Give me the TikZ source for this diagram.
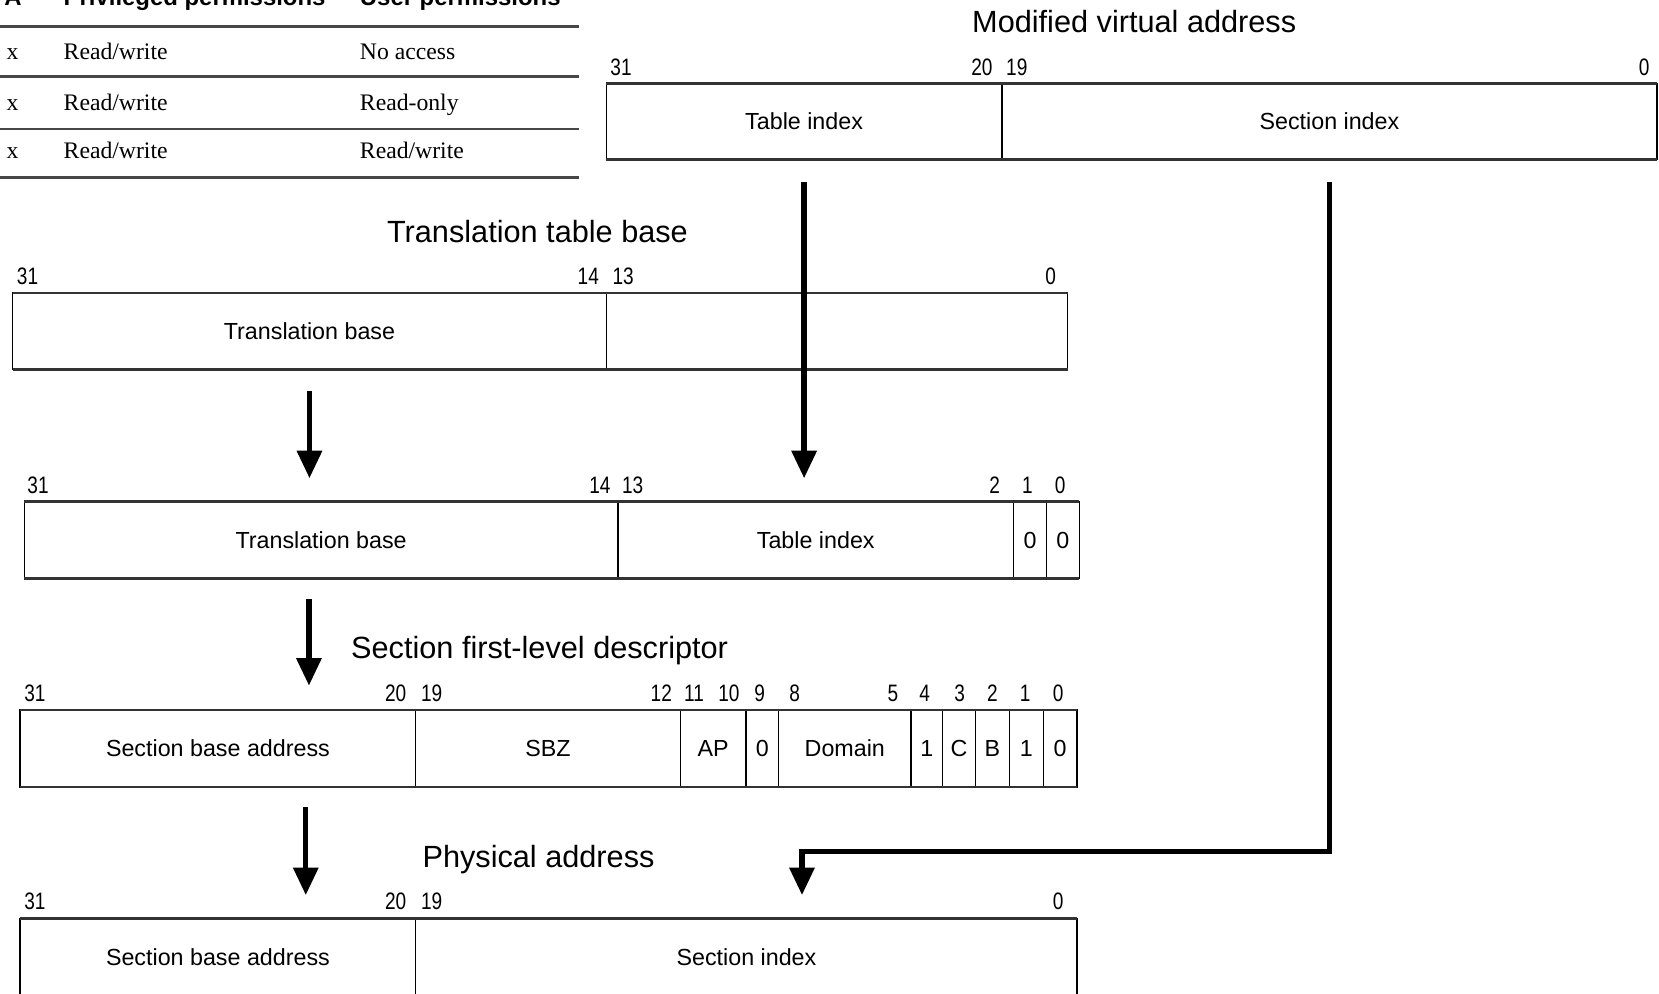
\documentclass[tikz,border=0pt]{standalone}
\usepackage{fontspec}
\setmainfont{Liberation Serif}
\newfontfamily\labelfont{Liberation Sans}
\newfontfamily\numfont[FakeStretch=0.8]{Liberation Sans}
\usetikzlibrary{arrows.meta}

% one bit field of a register: name, left x, right x, top y, bottom y, text
\newcommand\fld[6]{%
  \node[field, minimum width={#3pt-#2pt}, minimum height={#5pt-#4pt}]
    (#1) at ({(#2+#3)/2},{(#4+#5)/2}) {#6};}
% a bit number above a register: name, x, baseline y, text
\newcommand\bitno[4]{\node[bitlabel] (#1) at (#2,#3) {#4};}

\begin{document}
\begin{tikzpicture}[x=1pt,y=-1pt,
  field/.style={draw=black, line width=1.2pt, inner sep=0pt, outer sep=0pt,
    font=\labelfont\fontsize{22}{24}\selectfont},
  bitlabel/.style={anchor=base, inner sep=0pt,
    font=\numfont\fontsize{22.5}{24}\selectfont},
  heading/.style={anchor=base, inner sep=0pt,
    font=\labelfont\fontsize{29}{32}\selectfont},
  edge/.style={line width=2.4pt, draw=black!80},
  rule/.style={line width=2.6pt, draw=black!72},
  cell/.style={anchor=base west, inner sep=0pt, font=\fontsize{22.4}{24}\selectfont},
  headcell/.style={anchor=base west, inner sep=0pt,
    font=\labelfont\bfseries\fontsize{22.6}{24}\selectfont},
  flow/.style={line width=5pt, draw=black,
    -{Triangle[width=23pt,length=26pt]}},
]
\useasboundingbox (0,0) rectangle (1568,939);
\clip (0,0) rectangle (1568,939);

% ---- access permission table ----
\node[headcell] (hA) at (4,5) {A};
\node[headcell] (hP) at (60,5) {Privileged permissions};
\node[headcell] (hU) at (340,5) {User permissions};
\draw[rule] (0,25) -- (547,25);
\node[cell] (r1a) at (6,56) {x};
\node[cell] (r1b) at (60,56) {Read/write};
\node[cell] (r1c) at (340,56) {No access};
\draw[rule] (0,72) -- (547,72);
\node[cell] (r2a) at (6,104) {x};
\node[cell] (r2b) at (60,104) {Read/write};
\node[cell] (r2c) at (340,104) {Read-only};
\draw[rule] (0,122) -- (547,122);
\node[cell] (r3a) at (6,150) {x};
\node[cell] (r3b) at (60,150) {Read/write};
\node[cell] (r3c) at (340,150) {Read/write};
\draw[rule] (0,168) -- (547,168);

% ---- modified virtual address ----
\node[heading] (tVA) at (1072,31) {Modified virtual address};
\bitno{va31}{587}{71}{31}
\bitno{va20}{928}{71}{20}
\bitno{va19}{961}{71}{19}
\bitno{va0}{1554}{71}{0}
\fld{vaTI}{573}{947}{79}{151}{Table index}
\fld{vaSI}{947}{1566}{79}{151}{Section index}
\draw[edge] (vaTI.north west) -- (vaSI.north east);
\draw[edge] (vaTI.south west) -- (vaSI.south east);

% ---- translation table base ----
\node[heading] (tTB) at (508,229) {Translation table base};
\bitno{tb31}{26}{269}{31}
\bitno{tb14}{556}{269}{14}
\bitno{tb13}{589}{269}{13}
\bitno{tb0}{993}{269}{0}
\fld{tbTB}{12}{573}{277}{349}{Translation base}
\fld{tbLo}{573}{1009}{277}{349}{}
\draw[edge] (tbTB.north west) -- (tbLo.north east);
\draw[edge] (tbTB.south west) -- (tbLo.south east);

% ---- first-level descriptor address ----
\bitno{fa31}{36}{466}{31}
\bitno{fa14}{567}{466}{14}
\bitno{fa13}{598}{466}{13}
\bitno{fa2}{940}{466}{2}
\bitno{fa1}{971}{466}{1}
\bitno{fa0}{1002}{466}{0}
\fld{faTB}{23}{584}{474}{547}{Translation base}
\fld{faTI}{584}{958}{474}{547}{Table index}
\fld{faB1}{958}{989}{474}{547}{0}
\fld{faB0}{989}{1020}{474}{547}{0}
\draw[edge] (faTB.north west) -- (faB0.north east);
\draw[edge] (faTB.south west) -- (faB0.south east);

% ---- section first-level descriptor ----
\node[heading] (tSD) at (510,622) {Section first-level descriptor};
\bitno{sd31}{33}{663}{31}
\bitno{sd20}{374}{663}{20}
\bitno{sd19}{408}{663}{19}
\bitno{sd12}{625}{663}{12}
\bitno{sd11}{656}{663}{11}
\bitno{sd10}{689}{663}{10}
\bitno{sd9}{718}{663}{9}
\bitno{sd8}{751}{663}{8}
\bitno{sd5}{844}{663}{5}
\bitno{sd4}{874}{663}{4}
\bitno{sd3}{907}{663}{3}
\bitno{sd2}{938}{663}{2}
\bitno{sd1}{969}{663}{1}
\bitno{sd0}{1000}{663}{0}
\fld{sdBase}{19}{393}{671}{744}{Section base address}
\fld{sdSBZ}{393}{643}{671}{744}{SBZ}
\fld{sdAP}{643}{705}{671}{744}{AP}
\fld{sdB9}{705}{736}{671}{744}{0}
\fld{sdDom}{736}{861}{671}{744}{Domain}
\fld{sdB4}{861}{891}{671}{744}{1}
\fld{sdC}{891}{922}{671}{744}{C}
\fld{sdB}{922}{954}{671}{744}{B}
\fld{sdB1}{954}{986}{671}{744}{1}
\fld{sdB0}{986}{1018}{671}{744}{0}
\draw[edge] (sdBase.north west) -- (sdB0.north east);
\draw[edge] (sdBase.south west) -- (sdB0.south east);

% ---- physical address ----
\node[heading] (tPA) at (509,820) {Physical address};
\bitno{pa31}{33}{860}{31}
\bitno{pa20}{374}{860}{20}
\bitno{pa19}{408}{860}{19}
\bitno{pa0}{1000}{860}{0}
\fld{paBase}{19}{393}{868}{942}{Section base address}
\fld{paSI}{393}{1018}{868}{942}{Section index}
\draw[edge] (paBase.north west) -- (paSI.north east);

% ---- data flow ----
\coordinate (colA) at (292,0);
\coordinate (colB) at (289,0);
\coordinate (bend) at (758,805);
\draw[flow, shorten <=21pt, shorten >=22pt]
  (tbTB.south) -- (tbTB.south |- faTB.north);
\draw[flow, shorten <=19pt, shorten >=23pt]
  (colA |- faTB.south) -- (colA |- sdBase.north);
\draw[flow, shorten <=19pt, shorten >=22pt]
  (colB |- sdBase.south) -- (colB |- paBase.north);
\draw[flow, shorten <=21pt, shorten >=22pt]
  (vaTI.south) -- (vaTI.south |- faTI.north);
\draw[flow, shorten <=21pt, shorten >=22pt]
  (vaSI.south) |- (bend) -- (bend |- paSI.north);
\end{tikzpicture}
\end{document}
